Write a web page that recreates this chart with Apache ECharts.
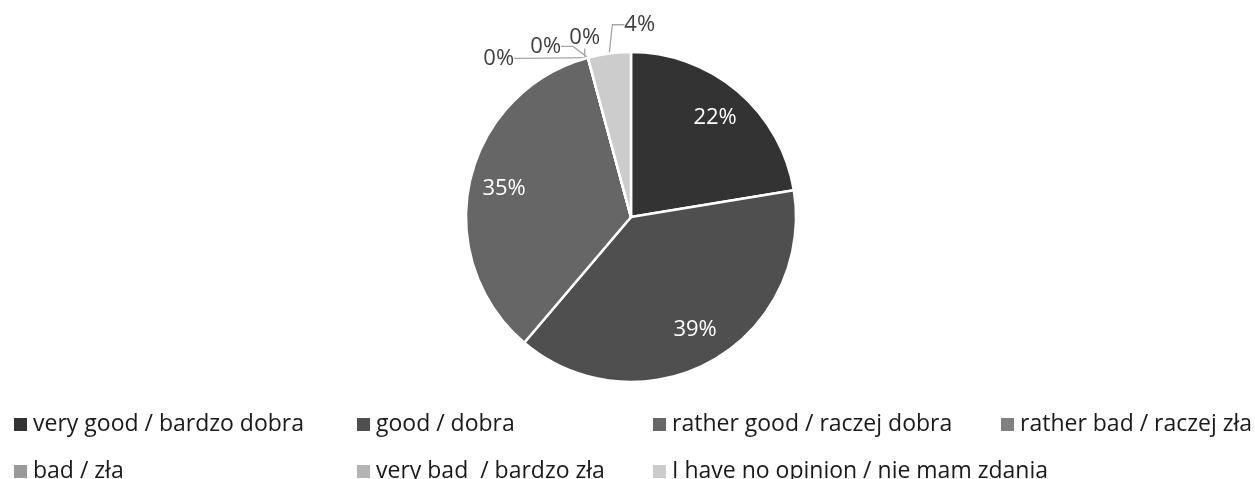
<!DOCTYPE html>
<html><head><meta charset="utf-8">
<script src="https://cdn.jsdelivr.net/npm/echarts@6/dist/echarts.min.js"></script>
<style>html,body{margin:0;padding:0;background:#fff}#c{width:1255px;height:479px}</style>
</head><body><div id="c"></div>
<script>
const categories = ['very good / bardzo dobra','good / dobra','rather good / raczej dobra','rather bad / raczej zła','bad / zła','very bad  / bardzo zła','I have no opinion / nie mam zdania'];
const shares = [22.4, 38.8, 34.6, 0, 0, 0, 4.2];
const colors = ['#333333','#4f4f4f','#666666','#808080','#999999','#b3b3b3','#cccccc'];
const insideLabel = [true, true, true, false, false, false, false];
// offsets of outside labels from the top-left corner of their slice's bounding box (style only)
const labelOffsets = {3:[-88,2], 4:[-41,-10], 5:[-2,-19], 6:[53,-26]};

const FONT = 'Open Sans';
const chart = echarts.init(document.getElementById('c'));
const fmt = p => Math.round(p.value) + '%';
const mainData = categories.map((n,i)=>({
  name:n, value:shares[i],
  itemStyle:{color:colors[i]},
  label: {show: !insideLabel[i]},
  labelLine: {show: !insideLabel[i]}
}));
const overlayData = categories.map((n,i)=>({
  name:n, value:shares[i],
  label: {show: insideLabel[i]}
}));
const colLeft = [12, 355, 651, 999];
const rowTop = [413, 460];
chart.setOption({
  animation:false,
  legend: categories.map((c,i)=>({
    left:colLeft[i%4], top:rowTop[Math.floor(i/4)], padding:0,
    itemWidth:15, itemHeight:15, icon:'rect', selectedMode:false,
    textStyle:{fontFamily:FONT, fontSize:23, lineHeight:16, color:'#1a1a1a'},
    data:[c]
  })),
  series:[{
    type:'pie', center:[631,217], radius:165, startAngle:90, clockwise:true,
    avoidLabelOverlap:false,
    itemStyle:{borderColor:'#ffffff', borderWidth:2.5},
    label:{position:'outside', color:'#404040', fontFamily:FONT, fontSize:22, formatter:fmt},
    labelLine:{length:12, length2:12, lineStyle:{color:'#a6a6a6', width:1.3}},
    labelLayout: function(p){
      const o = labelOffsets[p.dataIndex];
      if(!o) return {};
      return {x: p.rect.x + o[0], y: p.rect.y + o[1], align:'center', verticalAlign:'middle'};
    },
    emphasis:{disabled:true},
    data:mainData
  },{
    type:'pie', center:[631,217], radius:[89,165], startAngle:90, clockwise:true,
    silent:true, avoidLabelOverlap:false,
    itemStyle:{color:'rgba(0,0,0,0)'},
    label:{position:'inside', color:'#ffffff', fontFamily:FONT, fontSize:22, formatter:fmt},
    labelLine:{show:false},
    emphasis:{disabled:true},
    data:overlayData
  }]
});
</script></body></html>
